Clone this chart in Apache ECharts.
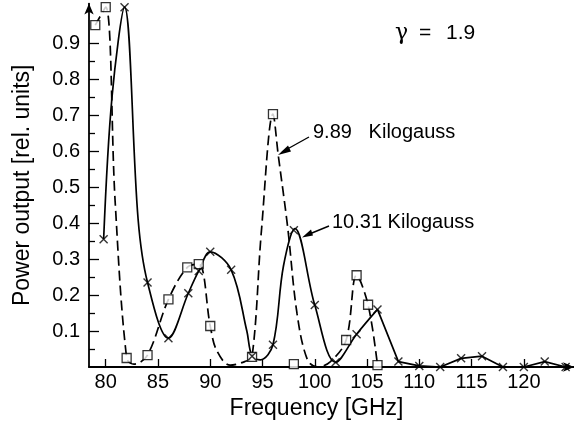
<!DOCTYPE html>
<html><head><meta charset="utf-8">
<script src="https://cdn.jsdelivr.net/npm/echarts@6/dist/echarts.min.js"></script>
<style>html,body{margin:0;padding:0;background:#fff}#c{width:574px;height:425px}</style>
</head><body><div id="c"></div>
<script>
// 9.89 kG measured points (squares)
const sqFreq = [79, 80, 82, 84, 86, 87.8, 88.9, 90, 94, 96, 98, 103, 104, 105.1, 106];
const sqPow  = [0.95, 1.0, 0.025, 0.033, 0.188, 0.277, 0.286, 0.114, 0.028, 0.703, 0.008, 0.075, 0.255, 0.173, 0.005];
// 9.89 kG drawn dashed curve
const dashFreq = [79, 80, 80.9, 82, 82.7, 84, 86, 87.8, 88.9, 90, 90.6, 91.9, 93.3, 94, 94.9, 96, 96.5, 97.4, 98.3, 99.3, 100.3, 101.5, 103, 104, 105.1, 106];
const dashPow  = [0.95, 1.0, 0.46, 0.025, 0.008, 0.033, 0.188, 0.277, 0.286, 0.114, 0.047, 0.005, 0.015, 0.028, 0.38, 0.703, 0.59, 0.39, 0.149, 0.02, 0.0, 0.015, 0.075, 0.255, 0.173, 0.005];
// 10.31 kG measured points (crosses)
const xFreq = [79.8, 81.8, 84, 86, 87.9, 88.9, 90, 92, 94, 96, 98, 100, 102, 104, 106, 108, 110, 112, 114, 116, 118, 120, 122, 124];
const xPow  = [0.355, 1.0, 0.235, 0.08, 0.205, 0.267, 0.32, 0.27, 0.03, 0.062, 0.38, 0.172, 0.013, 0.091, 0.16, 0.015, 0.003, 0.0, 0.024, 0.03, 0.0, 0.0, 0.015, 0.0];
// 10.31 kG drawn solid curve: smooth part and straight part
const solidFreq = [79.8, 80.6, 81.8, 83.1, 84, 86, 87.9, 88.9, 90, 92, 93.5, 94, 94.8, 96, 97, 98.1, 100, 102, 104, 106];
const solidPow  = [0.355, 0.75, 1.0, 0.41, 0.235, 0.08, 0.205, 0.267, 0.32, 0.27, 0.10, 0.03, 0.02, 0.062, 0.28, 0.385, 0.172, 0.013, 0.091, 0.16];
const tailFreq = [106, 108, 110, 112, 114, 116, 118, 120, 122, 124];
const tailPow  = [0.16, 0.015, 0.003, 0.0, 0.024, 0.03, 0.0, 0.0, 0.015, 0.0];
// ticks
const xTicks = [80, 85, 90, 95, 100, 105, 110, 115, 120];
const yTicks = [0.1, 0.2, 0.3, 0.4, 0.5, 0.6, 0.7, 0.8, 0.9];
const yMinor = [0.05, 0.15, 0.25, 0.35, 0.45, 0.55, 0.65, 0.75, 0.85];

const zip = (a, b) => a.map((v, i) => [v, b[i]]);
const FONT = 'Liberation Sans';
const chart = echarts.init(document.getElementById('c'), null, {renderer: 'canvas'});
const crossPath = 'path://M0 0L10 10M10 0L0 10';

chart.setOption({
  animation: false,
  backgroundColor: '#fff',
  grid: {left: 89, right: 0, top: 3.6, bottom: 58, containLabel: false},
  xAxis: {
    type: 'value', min: 78.4, max: 124.8,
    axisLine: {show: true, symbol: ['none', 'arrow'], symbolSize: [7, 11], lineStyle: {color: '#000', width: 1.8}},
    axisTick: {show: true, inside: true, length: 8, customValues: xTicks, lineStyle: {color: '#000', width: 1.3}},
    axisLabel: {show: true, customValues: xTicks, margin: 5, color: '#000', fontFamily: FONT, fontSize: 20},
    splitLine: {show: false},
    name: 'Frequency [GHz]', nameLocation: 'middle', nameGap: 29,
    nameTextStyle: {color: '#000', fontFamily: FONT, fontSize: 23, padding: [0, 30, 0, 0]}
  },
  yAxis: [{
    type: 'value', min: 0, max: 1.01,
    axisLine: {show: true, symbol: ['none', 'arrow'], symbolSize: [7, 11], lineStyle: {color: '#000', width: 1.8}},
    axisTick: {show: true, inside: true, length: 10, customValues: yTicks, lineStyle: {color: '#000', width: 1.3}},
    axisLabel: {show: true, customValues: yTicks, margin: 9, color: '#000', fontFamily: FONT, fontSize: 20,
      formatter: v => v.toFixed(1)},
    splitLine: {show: false},
    name: 'Power output [rel. units]', nameLocation: 'middle', nameGap: 55, nameRotate: 90,
    nameTextStyle: {color: '#000', fontFamily: FONT, fontSize: 23}
  }, {
    type: 'value', min: 0, max: 1.01, position: 'left',
    axisLine: {show: false},
    axisTick: {show: true, inside: true, length: 6, customValues: yMinor, lineStyle: {color: '#000', width: 1.3}},
    axisLabel: {show: false}, splitLine: {show: false}
  }],
  series: [
    {type: 'line', data: zip(dashFreq, dashPow), smooth: 0.35, showSymbol: false, silent: true,
     lineStyle: {color: '#000', width: 1.7, type: [10, 5]}},
    {type: 'line', data: zip(solidFreq, solidPow), smooth: 0.35, showSymbol: false, silent: true,
     lineStyle: {color: '#000', width: 1.7}},
    {type: 'line', data: zip(tailFreq, tailPow), smooth: false, showSymbol: false, silent: true,
     lineStyle: {color: '#000', width: 1.7}},
    {type: 'scatter', data: zip(sqFreq, sqPow), symbol: 'rect', symbolSize: 9, z: 5,
     itemStyle: {color: '#fff', borderColor: '#000', borderWidth: 1.3}},
    {type: 'scatter', data: zip(xFreq, xPow), symbol: crossPath, symbolSize: 8, z: 6,
     itemStyle: {color: 'none', borderColor: '#000', borderWidth: 1.4}}
  ],
  graphic: [
    {type: 'text', left: 395, top: 22, style: {text: 'γ', fontFamily: 'DejaVu Serif', fontSize: 22, fill: '#000'}},
    {type: 'text', left: 419, top: 23, style: {text: '=', fontFamily: FONT, fontSize: 21, fill: '#000'}},
    {type: 'text', left: 446, top: 23, style: {text: '1.9', fontFamily: FONT, fontSize: 21, fill: '#000'}},
    {type: 'text', left: 313, top: 122, style: {text: '9.89   Kilogauss', fontFamily: FONT, fontSize: 20, fill: '#000'}},
    {type: 'text', left: 332, top: 212, style: {text: '10.31 Kilogauss', fontFamily: FONT, fontSize: 20, fill: '#000'}},
    {type: 'line', shape: {x1: 309, y1: 137, x2: 282, y2: 152}, style: {stroke: '#000', lineWidth: 1.4}},
    {type: 'polygon', shape: {points: [[278, 155], [288, 145.5], [291, 151.5]]}, style: {fill: '#000'}},
    {type: 'line', shape: {x1: 329, y1: 226, x2: 307, y2: 235}, style: {stroke: '#000', lineWidth: 1.4}},
    {type: 'polygon', shape: {points: [[302, 237.5], [311, 229.5], [313, 235.5]]}, style: {fill: '#000'}}
  ]
});
</script></body></html>
